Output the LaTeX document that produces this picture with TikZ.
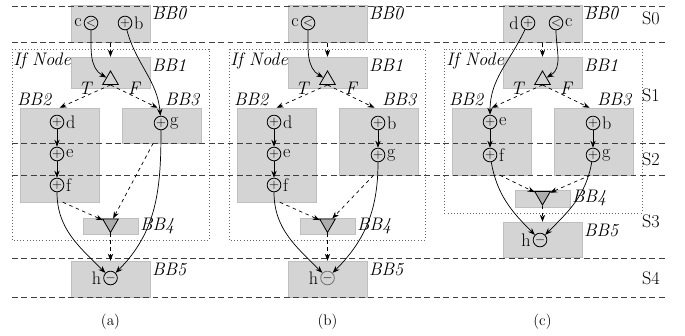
\documentclass[tikz,border=0pt]{standalone}
\usetikzlibrary{shapes.geometric,positioning,arrows.meta}

\tikzstyle{block} = [rectangle, draw=black!25, fill=black!17, inner sep=0pt]
\tikzstyle{op} = [circle, draw=black, line width=0.7pt, fill=black!17, minimum size=0.41cm, inner sep=0pt, font=\fontsize{11}{11}\selectfont]
\tikzstyle{branch} = [regular polygon, regular polygon sides=3, draw=black, line width=0.7pt, fill=black!17, minimum size=0.54cm, inner sep=0pt]
\tikzstyle{merge} = [branch, shape border rotate=180, fill=black!32]
\tikzstyle{bbname} = [font=\fontsize{15.5}{17}\selectfont\itshape, inner sep=1.5pt]
\tikzstyle{opname} = [font=\fontsize{15.5}{17}\selectfont, inner sep=1.5pt]
\tikzstyle{stage} = [dash pattern=on 5pt off 3pt, line width=0.8pt, black!75]
\tikzstyle{region} = [draw=black!60, line width=0.7pt, dotted]
\tikzstyle{arrow} = [-{Stealth[length=6pt,width=4.5pt]}, line width=0.6pt]
\tikzstyle{ctrl} = [arrow, dashed]

\begin{document}
\begin{tikzpicture}[x=0.03cm, y=-0.03cm, font=\fontsize{15.5}{17}\selectfont]
    \useasboundingbox (0,0) rectangle (685,335);

    % (a)
    \draw [region] (12,49) rectangle (209,240);
    \node (bb0a) [block, minimum width=2.37cm, minimum height=1.11cm, label={[bbname, anchor=north west]north east:BB0}] at (110.5,23.5) {};
    \node (bb1a) [block, minimum width=2.37cm, minimum height=0.93cm, label={[bbname, anchor=north west]north east:BB1}] at (110.5,72.5) {};
    \node (bb2a) [block, minimum width=2.37cm, minimum height=2.82cm, label={[bbname, anchor=south west, xshift=-4pt]north west:BB2}] at (59.5,155) {};
    \node (bb3a) [block, minimum width=2.37cm, minimum height=1.05cm, label={[bbname, anchor=south east]north east:BB3}] at (161.5,125.5) {};
    \node (bb4a) [block, minimum width=1.65cm, minimum height=0.48cm, label={[bbname, anchor=west]east:BB4}] at (110.5,226) {};
    \node (bb5a) [block, minimum width=2.37cm, minimum height=1.08cm, label={[bbname, anchor=north west]north east:BB5}] at (110.5,279) {};
    \node (ifa) [anchor=west, font=\fontsize{15.5}{17}\selectfont\itshape, inner sep=1pt] at (12,61) {If Node};

    % (b)
    \draw [region] (229,49) rectangle (425,240);
    \node (bb0b) [block, minimum width=2.37cm, minimum height=1.11cm, label={[bbname, anchor=north west]north east:BB0}] at (327.5,23.5) {};
    \node (bb1b) [block, minimum width=2.37cm, minimum height=0.93cm, label={[bbname, anchor=north west]north east:BB1}] at (327.5,72.5) {};
    \node (bb2b) [block, minimum width=2.37cm, minimum height=2.82cm, label={[bbname, anchor=south west, xshift=-4pt]north west:BB2}] at (276.5,155) {};
    \node (bb3b) [block, minimum width=2.37cm, minimum height=2.01cm, label={[bbname, anchor=south east]north east:BB3}] at (378.5,141.5) {};
    \node (bb4b) [block, minimum width=1.65cm, minimum height=0.48cm, label={[bbname, anchor=west]east:BB4}] at (327.5,226) {};
    \node (bb5b) [block, minimum width=2.37cm, minimum height=1.08cm, label={[bbname, anchor=north west]north east:BB5}] at (327.5,279) {};
    \node (ifb) [anchor=west, font=\fontsize{15.5}{17}\selectfont\itshape, inner sep=1pt] at (229,61) {If Node};

    % (c)
    \draw [region] (444,49) rectangle (642,213);
    \node (bb0c) [block, minimum width=2.37cm, minimum height=1.11cm, label={[bbname, anchor=north west]north east:BB0}] at (542.5,23.5) {};
    \node (bb1c) [block, minimum width=2.37cm, minimum height=0.93cm, label={[bbname, anchor=north west]north east:BB1}] at (542.5,72.5) {};
    \node (bb2c) [block, minimum width=2.37cm, minimum height=2.01cm, label={[bbname, anchor=south west, xshift=-4pt]north west:BB2}] at (491.5,141.5) {};
    \node (bb3c) [block, minimum width=2.37cm, minimum height=2.01cm, label={[bbname, anchor=south east]north east:BB3}] at (593.5,141.5) {};
    \node (bb4c) [block, minimum width=1.65cm, minimum height=0.51cm, label={[bbname, anchor=west]east:BB4}] at (542.5,198.5) {};
    \node (bb5c) [block, minimum width=2.37cm, minimum height=1.05cm, label={[bbname, anchor=north west]north east:BB5}] at (542.5,239.5) {};
    \node (ifc) [anchor=west, font=\fontsize{15.5}{17}\selectfont\itshape, inner sep=1pt] at (445,61) {If Node};

    % stages
    \draw [stage] (12,6) -- (668,6);
    \draw [stage] (12,42) -- (668,42);
    \draw [stage] (12,143) -- (668,143);
    \draw [stage] (12,175) -- (668,175);
    \draw [stage] (12,258) -- (668,258);
    \draw [stage] (12,297) -- (668,297);
    \node (s0) at (651,18) {S0};
    \node (s1) at (651,95) {S1};
    \node (s2) at (651,159) {S2};
    \node (s3) at (651,221) {S3};
    \node (s4) at (651,278) {S4};

    % operations (a)
    \node (ca) [op, label={[opname]left:c}] at (91,23) {$<$};
    \node (ba) [op, label={[opname]right:b}] at (125,23) {$+$};
    \node (t1a) [branch] at (110.5,80) {};
    \node (da) [op, label={[opname]right:d}] at (57,122) {$+$};
    \node (ea) [op, label={[opname]right:e}] at (57,154) {$+$};
    \node (fa) [op, label={[opname]right:f}] at (57,185) {$+$};
    \node (ga) [op, label={[opname]right:g}] at (161,123) {$+$};
    \node (t4a) [merge] at (110.5,223.5) {};
    \node (ma) [op, label={[opname]left:h}] at (110.5,278) {$-$};
    \coordinate (ina) at (110.5,43);

    \draw [ctrl] (ina) -- (bb1a);
    \draw [arrow] (ca) to[out=-90,in=150] (t1a);
    \draw [arrow] (ba) to[out=-75,in=95] (ga);
    \draw [ctrl] (t1a.south) -- node[above, inner sep=1pt, font=\fontsize{15.5}{17}\selectfont\itshape]{T} (bb2a.north);
    \draw [ctrl] (t1a.south) -- node[above, inner sep=1pt, font=\fontsize{15.5}{17}\selectfont\itshape]{F} ([xshift=-0.12cm]bb3a.north);
    \draw [arrow] (da) -- (ea);
    \draw [arrow] (ea) -- (fa);
    \draw [ctrl] ([xshift=0.1cm]bb2a.south) -- (t4a);
    \draw [ctrl] ([xshift=-0.25cm]bb3a.south) -- (t4a);
    \draw [ctrl] (t4a) -- (bb5a);
    \draw [arrow] (fa) to[out=-90,in=135] (ma);
    \draw [arrow] (ga) to[out=-90,in=45] (ma);

    % operations (b)
    \node (cb) [op, label={[opname]left:c}] at (308,23) {$<$};
    \node (t1b) [branch] at (327.5,80) {};
    \node (db) [op, label={[opname]right:d}] at (274,122) {$+$};
    \node (eb) [op, label={[opname]right:e}] at (274,154) {$+$};
    \node (fb) [op, label={[opname]right:f}] at (274,185) {$+$};
    \node (bb) [op, label={[opname]right:b}] at (378,123) {$+$};
    \node (gb) [op, label={[opname]right:g}] at (378,155) {$+$};
    \node (t4b) [merge] at (327.5,223.5) {};
    \node (mb) [op, draw=black!55, label={[opname]left:h}] at (327.5,278) {$-$};
    \coordinate (inb) at (327.5,43);

    \draw [ctrl] (inb) -- (bb1b);
    \draw [arrow] (cb) to[out=-90,in=150] (t1b);
    \draw [ctrl] (t1b.south) -- node[above, inner sep=1pt, font=\fontsize{15.5}{17}\selectfont\itshape]{T} (bb2b.north);
    \draw [ctrl] (t1b.south) -- node[above, inner sep=1pt, font=\fontsize{15.5}{17}\selectfont\itshape]{F} ([xshift=-0.12cm]bb3b.north);
    \draw [arrow] (db) -- (eb);
    \draw [arrow] (eb) -- (fb);
    \draw [arrow] (bb) -- (gb);
    \draw [ctrl] ([xshift=0.1cm]bb2b.south) -- (t4b);
    \draw [ctrl] ([xshift=-0.15cm]bb3b.south) -- (t4b);
    \draw [ctrl] (t4b) -- (bb5b);
    \draw [arrow] (fb) to[out=-90,in=135] (mb);
    \draw [arrow] (gb) to[out=-90,in=45] (mb);

    % operations (c)
    \node (dc) [op, label={[opname]left:d}] at (528,23) {$+$};
    \node (lc) [op, label={[opname]right:c}] at (556,23) {$<$};
    \node (t1c) [branch] at (542.5,80) {};
    \node (ec) [op, label={[opname]right:e}] at (490,122) {$+$};
    \node (fc) [op, label={[opname]right:f}] at (490,155) {$+$};
    \node (bc) [op, label={[opname]right:b}] at (593,123) {$+$};
    \node (gc) [op, label={[opname]right:g}] at (593,155) {$+$};
    \node (t4c) [merge] at (542.5,196) {};
    \node (mc) [op, label={[opname]left:h}] at (540,240) {$-$};
    \coordinate (inc) at (542.5,43);

    \draw [ctrl] (inc) -- (bb1c);
    \draw [arrow] (dc) to[out=-115,in=90] (ec);
    \draw [arrow] (lc) to[out=-90,in=30] (t1c);
    \draw [ctrl] (t1c.south) -- node[above, inner sep=1pt, font=\fontsize{15.5}{17}\selectfont\itshape]{T} (bb2c.north);
    \draw [ctrl] (t1c.south) -- node[above, inner sep=1pt, font=\fontsize{15.5}{17}\selectfont\itshape]{F} ([xshift=-0.12cm]bb3c.north);
    \draw [arrow] (ec) -- (fc);
    \draw [arrow] (bc) -- (gc);
    \draw [ctrl] ([xshift=0.25cm]bb2c.south) -- (t4c);
    \draw [ctrl] ([xshift=-0.1cm]bb3c.south) -- (t4c);
    \draw [ctrl] (t4c) -- (bb5c);
    \draw [arrow] (fc) to[out=-80,in=135] (mc);
    \draw [arrow] (gc) to[out=-100,in=45] (mc);

    % captions
    \node (capa) [font=\fontsize{13}{15}\selectfont] at (110.5,322) {(a)};
    \node (capb) [font=\fontsize{13}{15}\selectfont] at (327.5,322) {(b)};
    \node (capc) [font=\fontsize{13}{15}\selectfont] at (542.5,322) {(c)};

\end{tikzpicture}
\end{document}
